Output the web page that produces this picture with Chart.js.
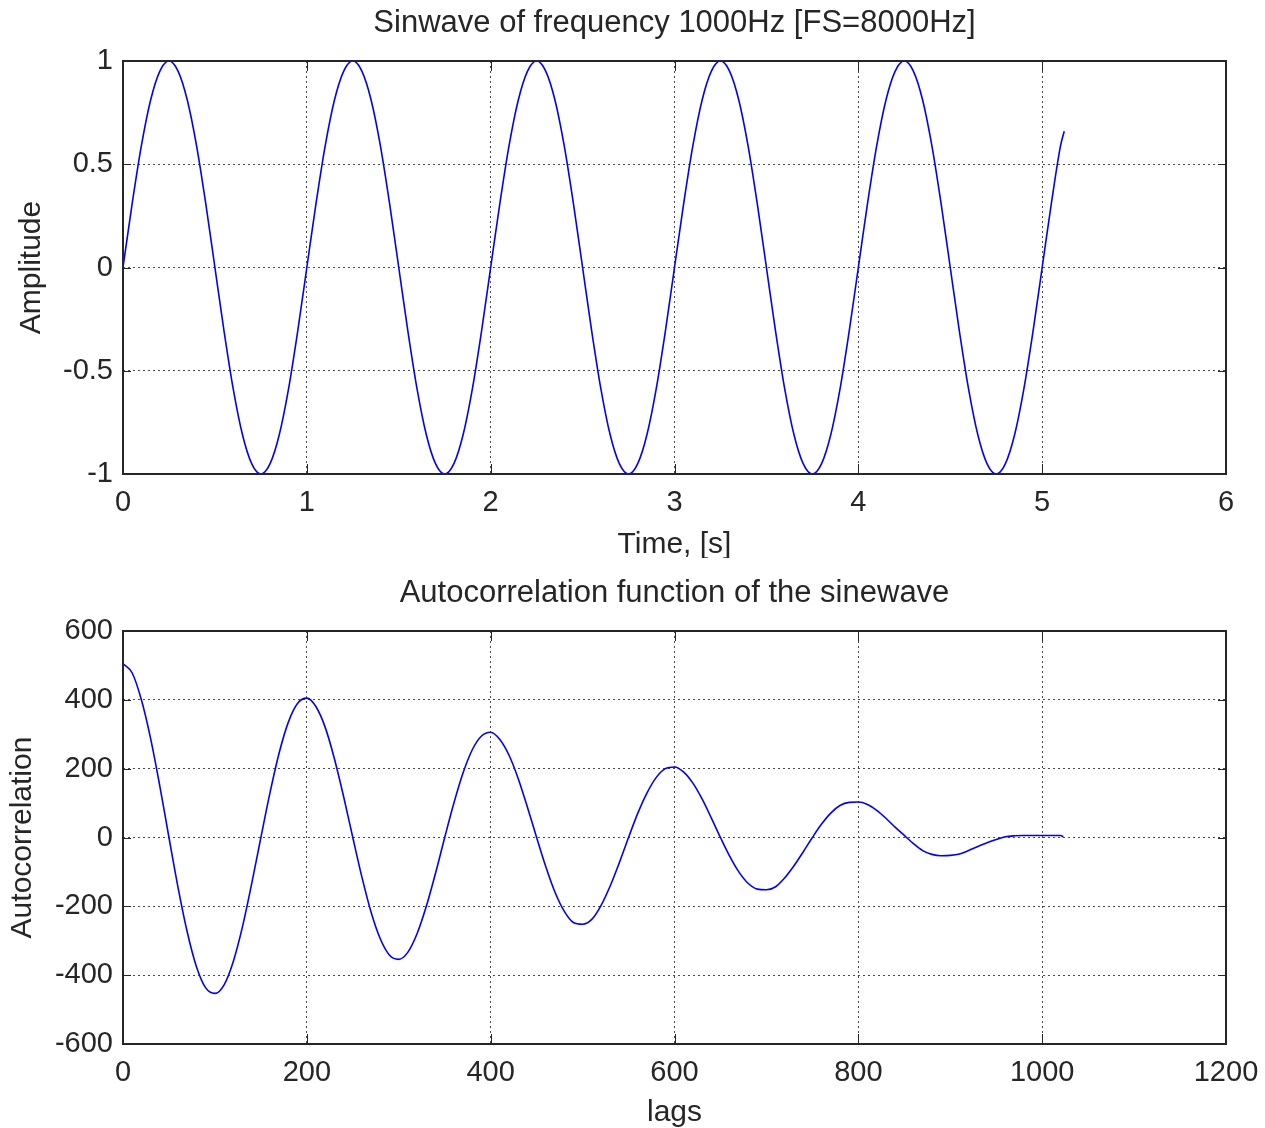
<!DOCTYPE html>
<html>
<head>
<meta charset="utf-8">
<script src="https://cdn.jsdelivr.net/npm/chart.js@4.4.1/dist/chart.umd.min.js"></script>
<style>
  html, body { margin: 0; padding: 0; background: #fff; }
  .panel { position: absolute; left: 0; width: 1265px; }
</style>
</head>
<body>
<div class="panel" style="top:0"><canvas id="sineChart" width="1265" height="558"></canvas></div>
<div class="panel" style="top:570px"><canvas id="acfChart" width="1265" height="558"></canvas></div>
<script>
const sineTime = [
  0.00, 0.05, 0.10, 0.15, 0.20, 0.25, 0.30, 0.35, 0.40, 0.45, 0.50, 0.55, 0.60, 0.65, 0.70, 0.75, 0.80, 0.85, 0.90, 0.95,
  1.00, 1.05, 1.10, 1.15, 1.20, 1.25, 1.30, 1.35, 1.40, 1.45, 1.50, 1.55, 1.60, 1.65, 1.70, 1.75, 1.80, 1.85, 1.90, 1.95,
  2.00, 2.05, 2.10, 2.15, 2.20, 2.25, 2.30, 2.35, 2.40, 2.45, 2.50, 2.55, 2.60, 2.65, 2.70, 2.75, 2.80, 2.85, 2.90, 2.95,
  3.00, 3.05, 3.10, 3.15, 3.20, 3.25, 3.30, 3.35, 3.40, 3.45, 3.50, 3.55, 3.60, 3.65, 3.70, 3.75, 3.80, 3.85, 3.90, 3.95,
  4.00, 4.05, 4.10, 4.15, 4.20, 4.25, 4.30, 4.35, 4.40, 4.45, 4.50, 4.55, 4.60, 4.65, 4.70, 4.75, 4.80, 4.85, 4.90, 4.95,
  5.00, 5.05, 5.10, 5.12
];
const sineAmp = [
  0, 0.31, 0.59, 0.81, 0.95, 1, 0.95, 0.81, 0.59, 0.31, 0, -0.31, -0.59, -0.81, -0.95, -1, -0.95, -0.81, -0.59, -0.31,
  0, 0.31, 0.59, 0.81, 0.95, 1, 0.95, 0.81, 0.59, 0.31, 0, -0.31, -0.59, -0.81, -0.95, -1, -0.95, -0.81, -0.59, -0.31,
  0, 0.31, 0.59, 0.81, 0.95, 1, 0.95, 0.81, 0.59, 0.31, 0, -0.31, -0.59, -0.81, -0.95, -1, -0.95, -0.81, -0.59, -0.31,
  0, 0.31, 0.59, 0.81, 0.95, 1, 0.95, 0.81, 0.59, 0.31, 0, -0.31, -0.59, -0.81, -0.95, -1, -0.95, -0.81, -0.59, -0.31,
  0, 0.31, 0.59, 0.81, 0.95, 1, 0.95, 0.81, 0.59, 0.31, 0, -0.31, -0.59, -0.81, -0.95, -1, -0.95, -0.81, -0.59, -0.31,
  0, 0.31, 0.59, 0.66
];
const sineXTicks = [0, 1, 2, 3, 4, 5, 6];
const sineYTicks = [-1, -0.5, 0, 0.5, 1];

// bottom panel: autocorrelation
const acfLags = [
  0, 10, 20, 30, 40, 50, 60, 70, 80, 90, 100, 110, 120, 130, 140, 150, 160, 170, 180, 190,
  200, 210, 220, 230, 240, 250, 260, 270, 280, 290, 300, 310, 320, 330, 340, 350, 360, 370, 380, 390,
  400, 410, 420, 430, 440, 450, 460, 470, 480, 490, 500, 510, 520, 530, 540, 550, 560, 570, 580, 590,
  600, 610, 620, 630, 640, 650, 660, 670, 680, 690, 700, 710, 720, 730, 740, 750, 760, 770, 780, 790,
  800, 810, 820, 830, 840, 850, 860, 870, 880, 890, 900, 910, 920, 930, 940, 950, 960, 970, 980, 990,
  1000, 1010, 1020, 1023
];
const acfValues = [
  505, 478, 400, 288, 150, 0, -147, -276, -376, -437, -453, -428, -360, -259, -134, 0, 131, 247, 336, 390,
  405, 380, 320, 229, 119, 0, -116, -218, -295, -342, -354, -333, -279, -200, -104, 0, 100, 188, 255, 295,
  306, 285, 239, 171, 88, 0, -85, -159, -214, -247, -252, -238, -198, -141, -73, 0, 70, 129, 174, 200,
  205, 190, 158, 112, 57, 0, -54, -100, -133, -150, -152, -143, -117, -82, -42, 0, 39, 71, 93, 102,
  103, 96, 79, 56, 30, 6, -18, -38, -49, -53, -52, -48, -38, -26, -15, -6, 2, 5, 6, 6,
  6, 6, 6, 2
];
const acfXTicks = [0, 200, 400, 600, 800, 1000, 1200];
const acfYTicks = [-600, -400, -200, 0, 200, 400, 600];

const FONT = '"Liberation Sans", Arial, Helvetica, sans-serif';
const INK = '#262626';

// matlab-like axes box with inward ticks on all four sides
const boxPlugin = {
  id: 'box',
  afterLayout(chart) {
    // center the title over the axes, not over the whole canvas
    if (chart.titleBlock) {
      chart.titleBlock.left = chart.chartArea.left;
      chart.titleBlock.right = chart.chartArea.right;
    }
  },
  afterDatasetsDraw(chart) {
    const { ctx, chartArea: a, scales } = chart;
    ctx.save();
    ctx.strokeStyle = INK;
    ctx.lineWidth = 1;
    ctx.beginPath();
    scales.x.ticks.forEach(t => {
      const px = Math.round(scales.x.getPixelForValue(t.value)) + 0.5;
      ctx.moveTo(px, a.bottom); ctx.lineTo(px, a.bottom - 10);
      ctx.moveTo(px, a.top); ctx.lineTo(px, a.top + 10);
    });
    scales.y.ticks.forEach(t => {
      const py = Math.round(scales.y.getPixelForValue(t.value)) + 0.5;
      ctx.moveTo(a.left, py); ctx.lineTo(a.left + 8, py);
      ctx.moveTo(a.right, py); ctx.lineTo(a.right - 8, py);
    });
    ctx.stroke();
    ctx.lineWidth = 2;
    ctx.strokeRect(a.left, a.top, a.right - a.left, a.bottom - a.top);
    ctx.restore();
  }
};

function makeChart(id, xs, ys, cfg) {
  const points = xs.map((x, i) => ({ x: x, y: ys[i] }));
  return new Chart(document.getElementById(id), {
    type: 'line',
    data: {
      datasets: [{
        data: points,
        borderColor: '#0000ff',
        borderWidth: 1.6,
        pointRadius: 0,
        cubicInterpolationMode: 'monotone',
        fill: false
      }]
    },
    options: {
      responsive: false,
      animation: false,
      events: [],
      layout: { padding: { left: 0, right: 39, top: 0, bottom: 0 } },
      plugins: {
        legend: { display: false },
        tooltip: { enabled: false },
        title: {
          display: true,
          text: cfg.title,
          color: INK,
          font: { family: FONT, size: 31, weight: 'normal', lineHeight: 1.2 },
          padding: { top: 5, bottom: 18.8 }
        }
      },
      scales: {
        x: {
          type: 'linear',
          min: cfg.xTicks[0],
          max: cfg.xTicks[cfg.xTicks.length - 1],
          afterBuildTicks: s => { s.ticks = cfg.xTicks.map(v => ({ value: v })); },
          afterFit: s => { s.height = 84; s.paddingLeft = 0; s.paddingRight = 0; },
          ticks: {
            color: INK,
            padding: 12,
            maxRotation: 0,
            font: { family: FONT, size: 29 },
            callback: v => String(v)
          },
          grid: { color: '#4a4a4a', lineWidth: 1, drawTicks: false },
          border: { display: false, dash: [2, 3] },
          title: {
            display: true,
            text: cfg.xTitle,
            color: INK,
            font: { family: FONT, size: 30, lineHeight: 1.2 },
            padding: { top: 0, bottom: cfg.xTitlePad }
          }
        },
        y: {
          type: 'linear',
          min: cfg.yTicks[0],
          max: cfg.yTicks[cfg.yTicks.length - 1],
          afterBuildTicks: s => { s.ticks = cfg.yTicks.map(v => ({ value: v })); },
          afterFit: s => { s.width = 123; s.paddingTop = 0; s.paddingBottom = 0; },
          ticks: {
            color: INK,
            padding: 10,
            font: { family: FONT, size: 29 },
            callback: v => String(v)
          },
          grid: { color: '#4a4a4a', lineWidth: 1, drawTicks: false },
          border: { display: false, dash: [2, 3] },
          title: {
            display: true,
            text: cfg.yTitle,
            color: INK,
            font: { family: FONT, size: 30, lineHeight: 1.2 },
            padding: { top: cfg.yTitlePad, bottom: 0 }
          }
        }
      }
    },
    plugins: [boxPlugin]
  });
}

const sineChart = makeChart('sineChart', sineTime, sineAmp, {
  title: 'Sinwave of frequency 1000Hz [FS=8000Hz]',
  xTitle: 'Time, [s]',
  yTitle: 'Amplitude',
  xTitlePad: -5,
  yTitlePad: 14,
  xTicks: sineXTicks,
  yTicks: sineYTicks
});

const acfChart = makeChart('acfChart', acfLags, acfValues, {
  title: 'Autocorrelation function of the sinewave',
  xTitle: 'lags',
  yTitle: 'Autocorrelation',
  xTitlePad: -3,
  yTitlePad: 5,
  xTicks: acfXTicks,
  yTicks: acfYTicks
});
</script>
</body>
</html>
